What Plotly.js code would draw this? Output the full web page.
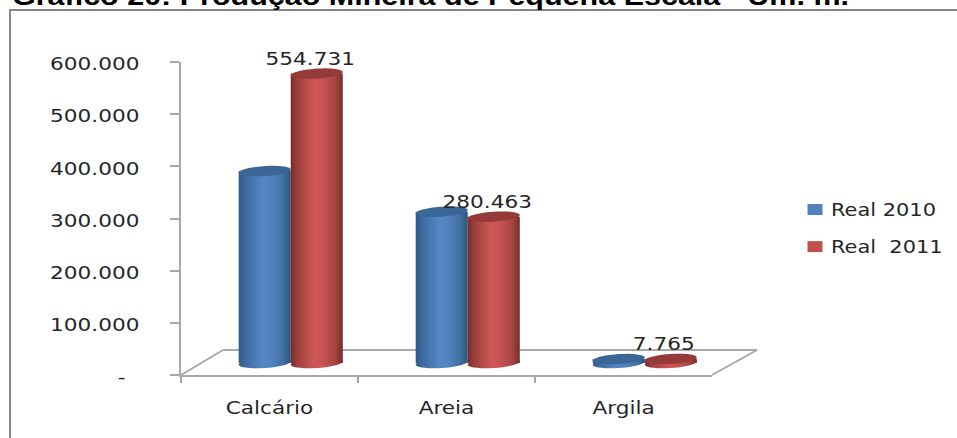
<!DOCTYPE html>
<html>
<head>
<meta charset="utf-8">
<script src="https://cdn.plot.ly/plotly-3.0.1.min.js"></script>
<style>html,body{margin:0;padding:0;background:#fff;overflow:hidden}</style>
</head>
<body>
<div id="chart" style="width:957px;height:438px"></div>
<script>
// Small-scale mining output by material
const categories = ['Calcário', 'Areia', 'Argila'];
const real2010 = [368000, 290000, 7500];
const real2011 = [554731, 280463, 7765];
const series2010 = 'Real 2010';
const series2011 = 'Real\u00a0 2011';
const yTickValues = [0, 100000, 200000, 300000, 400000, 500000, 600000];
const yTickLabels = ['-\u00a0\u00a0', '100.000', '200.000', '300.000', '400.000', '500.000', '600.000'];
const chartTitle = 'Gráfico 20: Produção Mineira de Pequena Escala - Um. m.';

const W = 957, H = 438;
const fx = p => p / W;
const fy = p => 1 - p / H;
const AXIS = '#A8A8A8', TEXT = '#262626', FONT = 'DejaVu Sans';

// Column geometry in axis units
const bargap = 0.412;
const barWidth = (1 - bargap) / 2;
const rxUnits = barWidth / 2;
const unitsPerPx = 600000 / 313;
const ryUnits = 5 * unitsPerPx;
const tiltUnits = 1.6 * unitsPerPx;

// Slightly tilted ellipse, as a shape path in axis units
function discPath(cx, cy) {
  let d = '';
  for (let i = 0; i < 36; i++) {
    const t = i / 36 * 2 * Math.PI;
    const x = cx + rxUnits * Math.cos(t);
    const y = cy + ryUnits * Math.sin(t) + tiltUnits * Math.cos(t);
    d += (i ? 'L' : 'M') + x.toFixed(4) + ',' + y.toFixed(0);
  }
  return d + 'Z';
}

const shapes = [];
const gradientShapes = [];
function addCylinderCaps(values, side, rim, cap) {
  values.forEach((v, i) => {
    const cx = i + side * barWidth / 2;
    gradientShapes.push({index: shapes.length, rim});
    shapes.push({type: 'path', xref: 'x2', yref: 'y2', layer: 'below', path: discPath(cx, 0),
      fillcolor: rim === 'blue' ? '#4F81BD' : '#C0504D', line: {width: 0}});
    shapes.push({type: 'path', xref: 'x2', yref: 'y2', layer: 'above', path: discPath(cx, v),
      fillcolor: cap, line: {width: 0}});
  });
}

// Floor of the chart box
const floorLine = (x0, y0, x1, y1) => ({type: 'line', xref: 'paper', yref: 'paper', layer: 'below',
  x0: fx(x0), y0: fy(y0), x1: fx(x1), y1: fy(y1), line: {color: AXIS, width: 2}});
shapes.push(floorLine(181, 375, 223, 350), floorLine(223, 350, 757, 350), floorLine(712, 375, 757, 350));
// Outer frame, running past the right and bottom of the page
shapes.push({type: 'rect', xref: 'paper', yref: 'paper', layer: 'below',
  x0: fx(10), y0: fy(10), x1: 1.05, y1: -0.05, line: {color: '#868686', width: 2}, fillcolor: 'rgba(0,0,0,0)'});

addCylinderCaps(real2010, -1, 'blue', '#3C6695');
addCylinderCaps(real2011, 1, 'red', '#953A38');

const xs = categories.map((_, i) => i);
const traces = [
  {type: 'scatter', mode: 'none', x: categories, y: categories.map(() => 0), xaxis: 'x', yaxis: 'y',
    showlegend: false, hoverinfo: 'skip'},
  {type: 'bar', name: series2010, x: xs, y: real2010, xaxis: 'x2', yaxis: 'y2',
    marker: {color: '#4F81BD', line: {width: 0}}, legendgroup: 'a', hoverinfo: 'y'},
  {type: 'bar', name: series2011, x: xs, y: real2011, xaxis: 'x2', yaxis: 'y2',
    marker: {color: '#C0504D', line: {width: 0}}, legendgroup: 'b', hoverinfo: 'y'}
];

const valueLabel = v => String(v).replace(/\B(?=(\d{3})+$)/g, '.');
const annotations = real2011.map((v, i) => ({
  xref: 'x2', yref: 'y2', x: i + barWidth / 2, y: v, text: valueLabel(v), showarrow: false,
  xanchor: 'center', yanchor: 'middle', xshift: -7, yshift: 15,
  font: {family: FONT, size: 18, color: TEXT}
}));

const layout = {
  width: W, height: H, margin: {l: 0, r: 0, t: 0, b: 0},
  paper_bgcolor: '#fff', plot_bgcolor: 'rgba(0,0,0,0)', showlegend: true,
  barmode: 'group', bargap, bargroupgap: 0,
  title: {text: '<b>' + chartTitle + '</b>', x: fx(12), xanchor: 'left', y: fy(5), yanchor: 'bottom',
    font: {family: 'Liberation Sans', size: 25, color: '#000'}, pad: {t: 0, b: 0, l: 0, r: 0}},
  xaxis: {type: 'category', domain: [fx(181), fx(712)], range: [-0.5, 2.5],
    categoryorder: 'array', categoryarray: categories, tickson: 'boundaries',
    showline: true, linecolor: AXIS, linewidth: 2, ticks: 'outside', ticklen: 6, tickwidth: 2, tickcolor: AXIS,
    showgrid: false, zeroline: false, ticklabelstandoff: 15, anchor: 'y',
    tickfont: {family: FONT, size: 18, color: TEXT}},
  yaxis: {domain: [fy(375), fy(62)], range: [0, 600000], tickmode: 'array',
    tickvals: yTickValues, ticktext: yTickLabels,
    showline: true, linecolor: AXIS, linewidth: 2, ticks: 'outside', ticklen: 9, tickwidth: 2, tickcolor: AXIS,
    showgrid: false, zeroline: false, ticklabelstandoff: 27, anchor: 'x',
    tickfont: {family: FONT, size: 18, color: TEXT}},
  // Columns sit on their own axes, set back into the depth of the floor;
  // the range runs below zero so the rounded bases are not clipped
  xaxis2: {domain: [fx(202.25), fx(733.25)], range: [-0.5, 2.5], visible: false, anchor: 'y2'},
  yaxis2: {domain: [fy(375), fy(50)], range: [-12 * unitsPerPx, 600000], visible: false, anchor: 'x2'},
  legend: {x: fx(795), y: fy(192), xanchor: 'left', yanchor: 'top', tracegroupgap: 12, itemwidth: 30,
    entrywidth: 130, entrywidthmode: 'pixels',
    font: {family: FONT, size: 17, color: TEXT}, bgcolor: 'rgba(0,0,0,0)'},
  shapes, annotations
};

// Horizontal cylinder shading for the column bodies and their bases
function addGradient(defs, id, stops) {
  const ns = 'http://www.w3.org/2000/svg';
  const g = document.createElementNS(ns, 'linearGradient');
  g.setAttribute('id', id);
  stops.forEach(([o, c]) => {
    const s = document.createElementNS(ns, 'stop');
    s.setAttribute('offset', o);
    s.setAttribute('stop-color', c);
    g.appendChild(s);
  });
  defs.appendChild(g);
}

Plotly.newPlot('chart', traces, layout, {displayModeBar: false, staticPlot: true}).then(gd => {
  const svg = gd.querySelector('.main-svg');
  const ns = 'http://www.w3.org/2000/svg';
  const defs = document.createElementNS(ns, 'defs');
  svg.insertBefore(defs, svg.firstChild);
  addGradient(defs, 'cyl-blue', [[0, '#2F5885'], [0.12, '#3D6A9E'], [0.45, '#5587C6'], [0.62, '#5283BF'], [0.85, '#41709F'], [1, '#2E5580']]);
  addGradient(defs, 'cyl-red', [[0, '#742C2A'], [0.12, '#9C3F3D'], [0.45, '#CD5755'], [0.62, '#C75351'], [0.85, '#A74543'], [1, '#752D2B']]);

  gd.querySelectorAll('.barlayer .trace').forEach((t, i) => {
    t.querySelectorAll('.point path').forEach(p => {
      p.style.fill = 'url(#' + (i === 0 ? 'cyl-blue' : 'cyl-red') + ')';
    });
  });
  gradientShapes.forEach(({index, rim}) => {
    gd.querySelectorAll('.shapelayer path[data-index="' + index + '"]').forEach(p => {
      p.style.fill = 'url(#cyl-' + rim + ')';
    });
  });

  // Wide lettering: widen glyphs without moving their anchor
  const widen = (el, length) => {
    el.setAttribute('textLength', length);
    el.setAttribute('lengthAdjust', 'spacingAndGlyphs');
  };
  gd.querySelectorAll('.xtick text, .ytick text, .annotation-text').forEach(el => {
    widen(el, el.getComputedTextLength() * 1.2);
  });
  gd.querySelectorAll('.ytick text').forEach(el => el.setAttribute('dy', '2'));
  gd.querySelectorAll('.legendtext').forEach(el => {
    widen(el, el.getComputedTextLength() * 1.23);
    el.setAttribute('x', parseFloat(el.getAttribute('x')) - 4);
  });
  // Larger legend keys, and room for the widened legend text
  gd.querySelectorAll('.legendpoints path').forEach(p => p.setAttribute('d', 'M7.5,5.5H-7.5V-5.5H7.5Z'));
  gd.querySelectorAll('.legend, .legend .scrollbox, .legend g').forEach(g => g.removeAttribute('clip-path'));
  gd.querySelectorAll('.legend .scrollbox').forEach(g => { g.style.clipPath = 'none'; });
  const title = gd.querySelector('.gtitle');
  if (title) widen(title, 837);
});
</script>
</body>
</html>
